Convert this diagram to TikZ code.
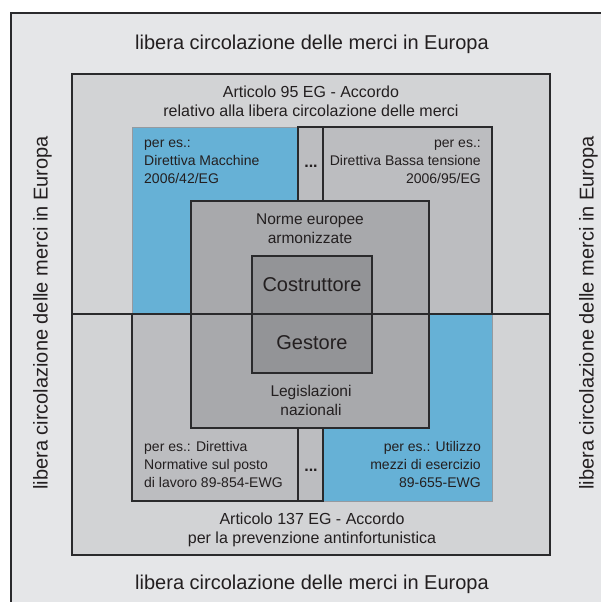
\documentclass[tikz,border=0pt]{standalone}
\usepackage{fontspec}
\setmainfont{Liberation Sans}
\usetikzlibrary{fit}
\definecolor{outerbg}{HTML}{E5E6E8}
\definecolor{midbg}{HTML}{D2D3D5}
\definecolor{greybox}{HTML}{BCBDC0}
\definecolor{normebox}{HTML}{A8A9AC}
\definecolor{corebox}{HTML}{939497}
\definecolor{bluebox}{HTML}{66B1D6}
\definecolor{linec}{HTML}{2A2A2C}
\definecolor{blueedge}{HTML}{959AA0}
\definecolor{txt}{HTML}{231F20}
\begin{document}
\begin{tikzpicture}[x=1pt,y=-1pt,
  darkbox/.style={draw=linec, line width=1.3pt, inner sep=0pt, rectangle},
  bluebx/.style={draw=blueedge, line width=1pt, fill=bluebox, inner sep=0pt, rectangle},
  bigtxt/.style={font=\fontsize{20}{24}\selectfont, text=txt, inner sep=0pt},
  arttxt/.style={font=\fontsize{16}{19}\selectfont, text=txt, inner sep=0pt, align=center},
  smalltxt/.style={font=\fontsize{14}{18}\selectfont, text=txt, inner sep=0pt},
  normetxt/.style={font=\fontsize{15.5}{19}\selectfont, text=txt, inner sep=0pt, align=center},
  coretxt/.style={font=\fontsize{20}{24}\selectfont, text=txt, inner sep=0pt},
  dotstxt/.style={font=\fontsize{16}{18}\selectfont\bfseries, text=txt, inner sep=0pt}
]
\useasboundingbox (0,0) rectangle (601,602);
\fill[white] (0,0) rectangle (601,602);
\fill[outerbg] (11,13) rectangle (601,602);
\coordinate (obl) at (11,602);
\coordinate (otl) at (11,13);
\coordinate (otr) at (601,13);
\draw[linec, line width=2pt] (obl) -- (otl) -- (otr);

% middle frame
\node[darkbox, fill=midbg, line width=1.8pt, fit={(72,74) (550,555)}] (mid) {};

% blue boxes
\node[bluebx, fit={(132,127) (298,314)}] (dirmac) {};
\node[bluebx, fit={(323,314) (492,501)}] (utilizzo) {};
% grey boxes
\node[darkbox, fill=greybox, fit={(323,127) (492,314)}] (dirbt) {};
\node[darkbox, fill=greybox, fit={(132,314) (298,501)}] (lavoro) {};
% dots columns
\node[darkbox, fill=greybox, fit={(298,127) (323,314)}] (dotsA) {};
\node[darkbox, fill=greybox, fit={(298,314) (323,501)}] (dotsB) {};
% norme box
\node[darkbox, fill=normebox, fit={(191,201) (429,428)}] (norme) {};
% core box
\node[darkbox, fill=corebox, fit={(252,256) (372,373)}] (core) {};

% dividing line
\coordinate (hl) at (72,314);
\coordinate (hr) at (550,314);
\draw[linec, line width=1.3pt] (hl) -- (hr);

% texts
\node[bigtxt, anchor=base] (ttop) at (312,50) {libera circolazione delle merci in Europa};
\node[bigtxt, anchor=base] (tbot) at (312,589) {libera circolazione delle merci in Europa};
\node[bigtxt, anchor=base, rotate=90] (tleft) at (47.5,313) {libera circolazione delle merci in Europa};
\node[bigtxt, anchor=base, rotate=90] (tright) at (593.5,313) {libera circolazione delle merci in Europa};

\node[arttxt, anchor=north] (a95) at (311,83.7) {\strut Articolo 95 EG - Accordo\\relativo alla libera circolazione delle merci};
\node[arttxt, anchor=north] (a137) at (312,510.7) {\strut Articolo 137 EG - Accordo\\per la prevenzione antinfortunistica};

\node[smalltxt, anchor=north west, align=left] (tmac) at (144,134.4) {\strut per es.:\\Direttiva Macchine\\2006/42/EG};
\node[smalltxt, anchor=north east, align=right] (tbt) at (481,134.4) {\strut per es.:\\Direttiva Bassa tensione\\2006/95/EG};
\node[smalltxt, anchor=north west, align=left] (tlav) at (144,438.4) {\strut per es.: Direttiva\\Normative sul posto\\di lavoro 89-854-EWG};
\node[smalltxt, anchor=north east, align=right] (tuti) at (481,438.4) {\strut per es.: Utilizzo\\mezzi di esercizio\\89-655-EWG};

\node[dotstxt, anchor=base] (dA) at (311,167) {...};
\node[dotstxt, anchor=base] (dB) at (311,471) {...};

\node[normetxt, anchor=north] (tnorme) at (310,210.7) {\strut Norme europee\\armonizzate};
\node[normetxt, anchor=north] (tleg) at (311,382.7) {\strut Legislazioni\\nazionali};
\node[coretxt, anchor=base] (tcos) at (312,291) {Costruttore};
\node[coretxt, anchor=base] (tges) at (312,349) {Gestore};
\end{tikzpicture}
\end{document}
